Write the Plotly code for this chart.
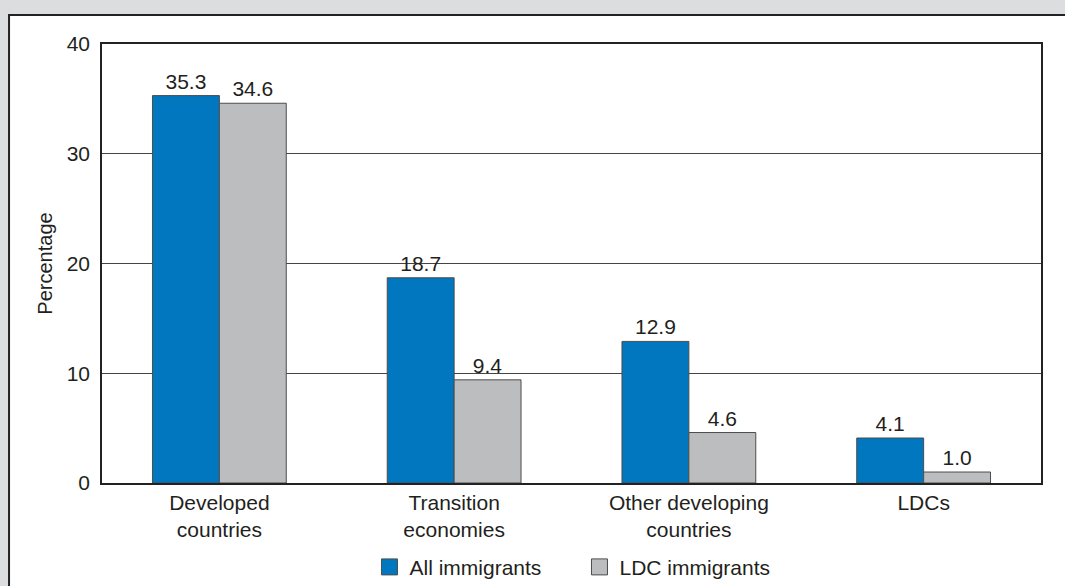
import plotly.graph_objects as go

categories = ["Developed<br>countries", "Transition<br>economies",
              "Other developing<br>countries", "LDCs"]
all_immigrants = [35.3, 18.7, 12.9, 4.1]
ldc_immigrants = [34.6, 9.4, 4.6, 1.0]
y_ticks = [0, 10, 20, 30, 40]

BLUE = "#0077BE"
GREY = "#BCBDBF"
TEXT = "#231f20"
EDGE = "#4d4d4d"
FONT = "Liberation Sans, Arial, sans-serif"

fig = go.Figure()

for name, values, color in [("All immigrants", all_immigrants, BLUE),
                            ("LDC immigrants", ldc_immigrants, GREY)]:
    fig.add_trace(go.Bar(
        name=name,
        x=categories,
        y=values,
        marker=dict(color=color, line=dict(color=EDGE, width=1)),
        text=[f"{v:.1f}" for v in values],
        textposition="outside",
        cliponaxis=False,
        textfont=dict(size=21, color=TEXT),
        showlegend=False,
    ))

# legend entries with bigger square swatches
for name, color in [("All immigrants", BLUE), ("LDC immigrants", GREY)]:
    fig.add_trace(go.Scatter(
        name=name,
        x=[None], y=[None],
        mode="markers",
        marker=dict(symbol="square", size=16, color=color,
                    line=dict(color=EDGE, width=1)),
        showlegend=True,
    ))

# white panel with dark border on grey page
fig.add_shape(
    type="rect", xref="paper", yref="paper",
    x0=-0.099, x1=1.06, y0=-0.3, y1=1.066,
    fillcolor="white", line=dict(color="#222222", width=2),
    layer="below",
)

fig.update_layout(
    width=1065,
    height=586,
    barmode="group",
    bargap=0.43,
    bargroupgap=0,
    paper_bgcolor="#dcdddf",
    plot_bgcolor="white",
    font=dict(family=FONT, size=21, color=TEXT),
    margin=dict(l=102, r=24, t=44, b=103),
    xaxis=dict(
        showline=True, linecolor="#222222", linewidth=1.5, mirror=True,
        ticks="", tickfont=dict(size=21, color=TEXT), automargin=False,
    ),
    yaxis=dict(
        range=[0, 40],
        tickvals=y_ticks,
        showline=True, linecolor="#222222", linewidth=1.5, mirror=True,
        showgrid=True, gridcolor="#444444", gridwidth=1,
        ticks="", ticklabelstandoff=6, automargin=False,
        tickfont=dict(size=21, color=TEXT),
        title=dict(text="Percentage", font=dict(size=20, color=TEXT), standoff=9),
        zeroline=False,
    ),
    legend=dict(
        orientation="h", x=0.5085, xanchor="center",
        yref="container", y=0.032, yanchor="middle",
        bgcolor="rgba(0,0,0,0)", font=dict(size=21, color=TEXT),
        entrywidth=165, itemwidth=30,
    ),
    showlegend=True,
)

fig.write_html("out.html", config={"displayModeBar": False},
               post_script="document.body.style.margin='0';")
